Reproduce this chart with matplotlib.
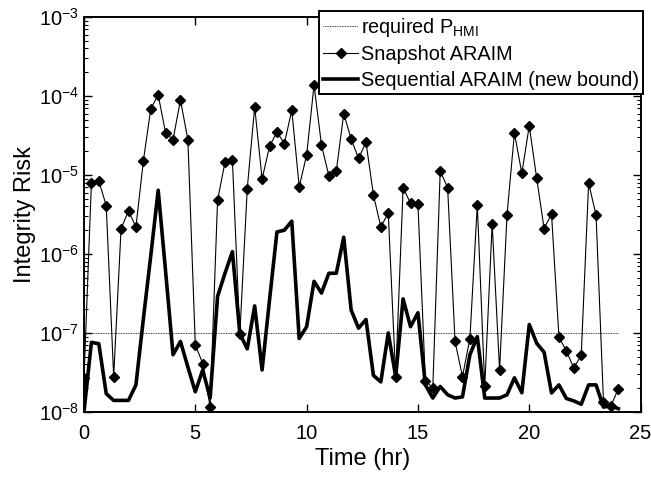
#!/usr/bin/env python3

import matplotlib
matplotlib.use("Agg")
import matplotlib.pyplot as plt
import numpy as np

plt.rcParams["font.family"] = ["Liberation Sans", "DejaVu Sans"]
plt.rcParams["mathtext.default"] = "regular"
plt.rcParams["axes.unicode_minus"] = False

# sample epochs, minutes after start (every 20 min over 24 h)
TIME_MIN = [
    0, 20, 40, 60, 80, 100, 120, 140, 160, 180, 200, 220,
    240, 260, 280, 300, 320, 340, 360, 380, 400, 420, 440, 460,
    480, 500, 520, 540, 560, 580, 600, 620, 640, 660, 680, 700,
    720, 740, 760, 780, 800, 820, 840, 860, 880, 900, 920, 940,
    960, 980, 1000, 1020, 1040, 1060, 1080, 1100, 1120, 1140, 1160, 1180,
    1200, 1220, 1240, 1260, 1280, 1300, 1320, 1340, 1360, 1380, 1400, 1420,
    1440,
]

SNAPSHOT = [
    2.7e-8, 7.9e-6, 8.4e-6, 4.1e-6, 2.8e-8, 2.1e-6, 3.5e-6, 2.2e-6, 1.5e-5, 6.9e-5, 1.03e-4, 3.4e-5,
    2.8e-5, 8.9e-5, 2.8e-5, 7.1e-8, 4.1e-8, 1.15e-8, 4.8e-6, 1.45e-5, 1.55e-5, 9.6e-8, 6.7e-6, 7.3e-5,
    8.9e-6, 2.3e-5, 3.5e-5, 2.5e-5, 6.6e-5, 7.1e-6, 1.78e-5, 1.38e-4, 2.4e-5, 9.7e-6, 1.12e-5, 6.0e-5,
    2.85e-5, 1.62e-5, 2.6e-5, 5.6e-6, 2.2e-6, 3.3e-6, 2.8e-8, 6.9e-6, 4.4e-6, 4.3e-6, 2.5e-8, 2.0e-8,
    1.12e-5, 6.9e-6, 7.8e-8, 2.8e-8, 8.5e-8, 4.2e-6, 2.1e-8, 2.4e-6, 3.4e-8, 3.1e-6, 3.4e-5, 1.05e-5,
    4.2e-5, 9.1e-6, 2.1e-6, 3.2e-6, 8.9e-8, 5.9e-8, 3.6e-8, 5.2e-8, 7.9e-6, 3.1e-6, 1.35e-8, 1.2e-8,
    1.95e-8,
]

SEQUENTIAL = [
    1.0e-8, 7.6e-8, 7.3e-8, 1.7e-8, 1.4e-8, 1.4e-8, 1.4e-8, 2.2e-8, 1.5e-7, 9.5e-7, 6.4e-6, 6.0e-7,
    5.3e-8, 7.8e-8, 3.7e-8, 1.8e-8, 3.4e-8, 1.5e-8, 2.9e-7, 5.7e-7, 1.07e-6, 9.8e-8, 6.3e-8, 2.2e-7,
    3.4e-8, 2.6e-7, 1.9e-6, 2.0e-6, 2.6e-6, 8.5e-8, 1.2e-7, 4.5e-7, 3.2e-7, 5.7e-7, 5.7e-7, 1.63e-6,
    1.95e-7, 1.15e-7, 1.48e-7, 2.9e-8, 2.4e-8, 1.0e-7, 2.8e-8, 2.7e-7, 1.2e-7, 1.8e-7, 2.2e-8, 1.5e-8,
    2.1e-8, 1.65e-8, 1.5e-8, 1.55e-8, 5.3e-8, 9.0e-8, 1.5e-8, 1.5e-8, 1.5e-8, 1.65e-8, 2.7e-8, 1.75e-8,
    1.28e-7, 7.4e-8, 5.7e-8, 1.74e-8, 2.2e-8, 1.48e-8, 1.38e-8, 1.25e-8, 2.2e-8, 2.2e-8, 1.15e-8, 1.2e-8,
    1.1e-8,
]

P_HMI = 1e-7

t_hr = np.array(TIME_MIN) / 60.0

fig = plt.figure(figsize=(6.51, 4.79), dpi=100)
ax = fig.add_axes([0.129, 0.14, 0.855, 0.8245])

ax.plot([t_hr[0], t_hr[-1]], [P_HMI, P_HMI], color="k", lw=0.6, ls=(0, (1, 1)),
        label="required P$_{HMI}$")
ax.plot(t_hr, SNAPSHOT, color="k", lw=0.8, marker="D", ms=5.6, label="Snapshot ARAIM")
ax.plot(t_hr, SEQUENTIAL, color="k", lw=2.6, label="Sequential ARAIM (new bound)")

ax.set_yscale("log")
ax.set_xlim(0, 25)
ax.set_ylim(1e-8, 1e-3)
ax.set_xticks([0, 5, 10, 15, 20, 25])
ax.set_xlabel("Time (hr)", fontsize=17, labelpad=3)
ax.set_ylabel("Integrity Risk", fontsize=17, labelpad=2)

ax.tick_params(which="both", direction="in", top=True, right=True, labelsize=14.5)
ax.tick_params(which="major", length=6, width=1.0)
ax.tick_params(which="minor", length=3, width=0.8)
ax.tick_params(axis="x", pad=9)
for sp in ax.spines.values():
    sp.set_linewidth(1.4)

leg = ax.legend(loc="upper right", bbox_to_anchor=(1.005, 1.014), fontsize=14.3,
                frameon=True, fancybox=False, framealpha=1, edgecolor="k",
                handlelength=1.75, handletextpad=0.15, labelspacing=0.33,
                borderpad=0.22, borderaxespad=0)
leg.get_frame().set_linewidth(1.4)

fig.savefig("out.png", dpi=100)
